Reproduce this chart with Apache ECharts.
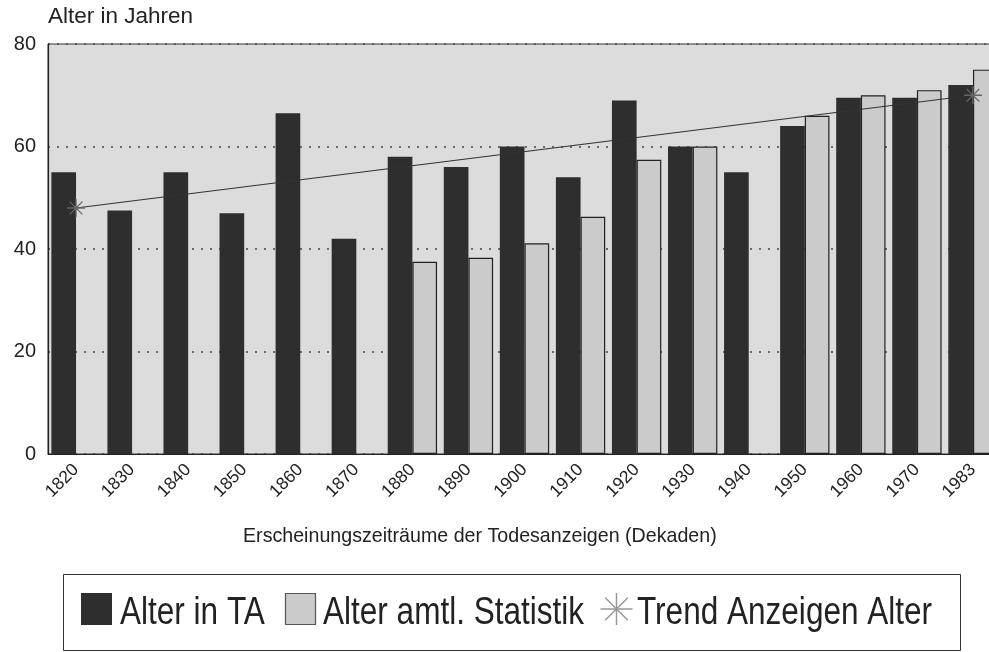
<!DOCTYPE html>
<html>
<head>
<meta charset="utf-8">
<script src="https://cdn.jsdelivr.net/npm/echarts@6/dist/echarts.min.js"></script>
<style>
html,body{margin:0;padding:0;background:#fff;overflow:hidden;width:989px;height:652px;}
#c{width:1001px;height:652px;}
</style>
</head>
<body>
<div id="c"></div>
<script>
const categories = ['1820','1830','1840','1850','1860','1870','1880','1890','1900','1910','1920','1930','1940','1950','1960','1970','1983'];
const alterTA = [55, 47.5, 55, 47, 66.5, 42, 58, 56, 60, 54, 69, 60, 55, 64, 69.5, 69.5, 72];
const alterStatistik = [null, null, null, null, null, null, 37.5, 38.3, 41.1, 46.3, 57.4, 60, null, 66, 70, 71, 75];
const trendAlter = [48, null, null, null, null, null, null, null, null, null, null, null, null, null, null, null, 70];
const yTicks = [0, 20, 40, 60, 80];
const seriesNames = ['Alter in TA', 'Alter amtl. Statistik', 'Trend Anzeigen Alter'];

const DARK = '#2e2e2e', LIGHT = '#cbcbcb';
const STAR = 'path://M10,0L10,20M0,10L20,10M2.93,2.93L17.07,17.07M17.07,2.93L2.93,17.07';
const FONT = '"Liberation Sans", Arial, sans-serif';

function star(cx, cy, r, color) {
  const d = r * 0.7071;
  const segs = [[cx, cy - r, cx, cy + r], [cx - r, cy, cx + r, cy], [cx - d, cy - d, cx + d, cy + d], [cx + d, cy - d, cx - d, cy + d]];
  return segs.map(s => ({type: 'line', shape: {x1: s[0], y1: s[1], x2: s[2], y2: s[3]}, style: {stroke: color, lineWidth: 1.5}}));
}
function legendText(txt, x) {
  return {type: 'text', x: x, y: 614, scaleX: 0.83, style: {text: txt, font: '38px ' + FONT, fill: '#222', textAlign: 'left', textVerticalAlign: 'middle'}};
}

const chart = echarts.init(document.getElementById('c'));
chart.setOption({
  animation: false,
  textStyle: {fontFamily: FONT},
  grid: {left: 48, right: 0, top: 44, bottom: 198, show: true, backgroundColor: '#dcdcdc', borderColor: '#333', borderWidth: 1},
  xAxis: {
    type: 'category', data: categories, boundaryGap: true,
    axisLine: {lineStyle: {color: '#222', width: 1.2}},
    axisTick: {show: false},
    axisLabel: {interval: 0, rotate: 45, fontSize: 17.5, color: '#222', margin: 13}
  },
  yAxis: {
    type: 'value', min: yTicks[0], max: yTicks[yTicks.length - 1], interval: 20,
    axisLine: {show: true, lineStyle: {color: '#222', width: 1.2}},
    axisTick: {show: false},
    axisLabel: {fontSize: 20, color: '#222', margin: 12},
    splitLine: {show: true, lineStyle: {color: '#444', width: 1.5, type: [2, 7]}}
  },
  graphic: [
    {type: 'rect', left: 63, top: 574, shape: {width: 897, height: 76}, style: {fill: '#fff', stroke: '#333', lineWidth: 1}, z: -1},
    {type: 'text', x: 48, y: 17, style: {text: 'Alter in Jahren', font: '22.5px ' + FONT, fill: '#222', textVerticalAlign: 'middle'}},
    {type: 'text', x: 243, y: 536, scaleX: 0.935, style: {text: 'Erscheinungszeiträume der Todesanzeigen (Dekaden)', font: '21px ' + FONT, fill: '#222', textAlign: 'left', textVerticalAlign: 'middle'}},
    {type: 'rect', shape: {x: 81, y: 593, width: 31, height: 32}, style: {fill: DARK}},
    legendText(seriesNames[0], 120),
    {type: 'rect', shape: {x: 285.5, y: 593.5, width: 30, height: 31}, style: {fill: LIGHT, stroke: '#555', lineWidth: 1.2}},
    legendText(seriesNames[1], 323),
    ...star(616.5, 609, 16, '#999'),
    legendText(seriesNames[2], 637)
  ],
  series: [
    {name: seriesNames[0], type: 'bar', data: alterTA, barGap: '0%', barCategoryGap: '12%',
     itemStyle: {color: DARK}},
    {name: seriesNames[1], type: 'bar', data: alterStatistik,
     itemStyle: {color: LIGHT, borderColor: '#222', borderWidth: 1.2}},
    {name: seriesNames[2], type: 'line', data: trendAlter, connectNulls: true,
     symbol: STAR, symbolSize: 18, showAllSymbol: true,
     lineStyle: {color: '#333', width: 1.2},
     itemStyle: {color: '#666', borderColor: '#666', borderWidth: 1.3}, z: 5}
  ]
});
</script>
</body>
</html>
